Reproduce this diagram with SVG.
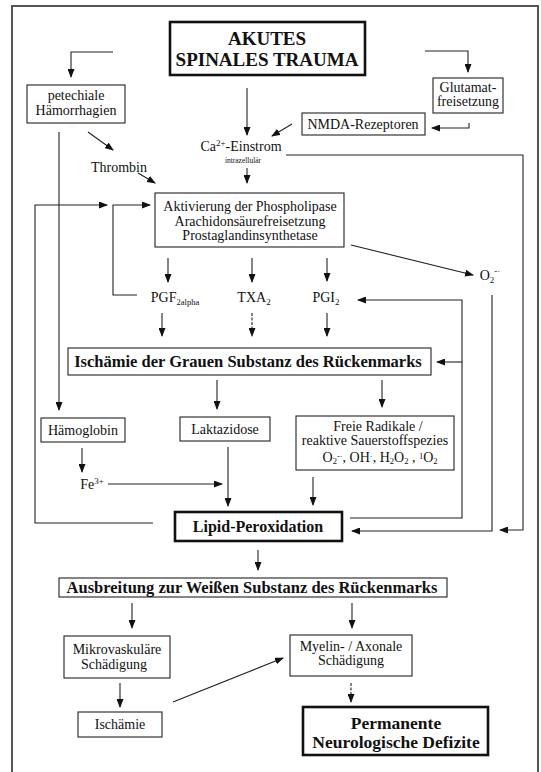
<svg xmlns="http://www.w3.org/2000/svg" width="541" height="772" viewBox="0 0 541 772">
<style>
text{font-family:"Liberation Serif","Times New Roman",serif;fill:#111;text-anchor:middle}
.t{font-size:14px}
.b{font-weight:bold}
.box{fill:#fff;stroke:#222;stroke-width:1.1}
.thick{fill:#fff;stroke:#111;stroke-width:2.6}
.c path{fill:none;stroke:#222;stroke-width:1.1}
.a{marker-end:url(#ah)}
</style>
<defs>
<marker id="ah" markerUnits="userSpaceOnUse" markerWidth="9" markerHeight="7" refX="8" refY="3.5" orient="auto">
<path d="M0,0 L9,3.5 L0,7 z" fill="#111"/>
</marker>
</defs>
<rect x="0" y="0" width="541" height="772" fill="#fff"/>
<path d="M12,780 V6 H538 V780" fill="none" stroke="#555" stroke-width="2"/>

<g class="c">
<path class="a" d="M113,52 H71 V77"/>
<path class="a" d="M425,51 H468 V72"/>
<path class="a" d="M247,88 V135"/>
<path class="a" d="M469,123 V128 H432"/>
<path class="a" d="M292,124 L272,136"/>
<path class="a" d="M247,168 V183"/>
<path class="a" d="M286,155 H523 V530 H500"/>
<path class="a" d="M88,132 L113,150"/>
<path class="a" d="M138,173 L155,183"/>
<path class="a" d="M59,132 V410"/>
<path class="a" d="M153,523 H35 V205 H107"/>
<path class="a" d="M137,295 H113 V205 H150"/>
<path class="a" d="M168,258 V282"/>
<path class="a" d="M252,258 V282"/>
<path class="a" d="M327,258 V281"/>
<path class="a" d="M351,245 L473,275"/>
<path class="a" d="M162,313 V336"/>
<path class="a" d="M252,313 V336" stroke-dasharray="3,1.5"/>
<path class="a" d="M327,313 V336"/>
<path class="a" d="M492,295 V531 H352"/>
<path class="a" d="M350,518 H462 V300 H358"/>
<path class="a" d="M462,362 H437"/>
<path class="a" d="M217,380 V409"/>
<path class="a" d="M382,380 V407"/>
<path class="a" d="M82,448 V472"/>
<path class="a" d="M108,484 H222"/>
<path class="a" d="M228,447 V506"/>
<path class="a" d="M313,477 V505"/>
<path class="a" d="M258,550 V570"/>
<path class="a" d="M132,603 V628"/>
<path class="a" d="M352,603 V628"/>
<path class="a" d="M120,683 V707"/>
<path class="a" d="M173,702 L283,658"/>
<path class="a" d="M351,683 V702" stroke-dasharray="3,1.5"/>
</g>

<g id="trauma">
<rect class="thick" x="170" y="22" width="195" height="53"/>
<text class="b" x="267" y="45" font-size="19">AKUTES</text>
<text class="b" x="267" y="66" font-size="19">SPINALES TRAUMA</text>
</g>
<g id="petechiale">
<rect class="box" x="27" y="85" width="98" height="38"/>
<text class="t" x="76" y="100">petechiale</text>
<text class="t" x="76" y="115">Hämorrhagien</text>
</g>
<g id="glutamat">
<rect class="box" x="433" y="78" width="70" height="35"/>
<text class="t" x="468" y="92">Glutamat-</text>
<text class="t" x="468" y="106">freisetzung</text>
</g>
<g id="nmda">
<rect class="box" x="302" y="113" width="123" height="22"/>
<text class="t" x="363" y="129">NMDA-Rezeptoren</text>
</g>
<g id="ca">
<text class="t" x="241" y="151">Ca<tspan font-size="9" dy="-5">2+</tspan><tspan dy="5">-Einstrom</tspan></text>
<text x="243" y="163" font-size="7.5">intrazellulär</text>
</g>
<g id="thrombin">
<text class="t" x="119" y="172">Thrombin</text>
</g>
<g id="aktivierung">
<rect class="box" x="155" y="193" width="189" height="54"/>
<text class="t" x="250" y="211">Aktivierung der Phospholipase</text>
<text class="t" x="250" y="226">Arachidonsäurefreisetzung</text>
<text class="t" x="250" y="240">Prostaglandinsynthetase</text>
</g>
<g id="pgf">
<text class="t" x="175" y="302">PGF<tspan font-size="8.5" dy="3">2alpha</tspan></text>
</g>
<g id="txa">
<text class="t" x="254" y="302">TXA<tspan font-size="9" dy="3">2</tspan></text>
</g>
<g id="pgi">
<text class="t" x="326" y="302">PGI<tspan font-size="9" dy="3">2</tspan></text>
</g>
<g id="o2">
<text class="t" x="490" y="280">O<tspan font-size="9" dy="3">2</tspan><tspan font-size="9" dy="-9">-·</tspan></text>
</g>
<g id="ischaemie-grau">
<rect class="box" x="68" y="348" width="363" height="27"/>
<text class="b" x="248" y="367" font-size="16.5">Ischämie der Grauen Substanz des Rückenmarks</text>
</g>
<g id="haemoglobin">
<rect class="box" x="41" y="418" width="84" height="24"/>
<text class="t" x="83" y="435">Hämoglobin</text>
</g>
<g id="fe">
<text class="t" x="92" y="489">Fe<tspan font-size="9" dy="-5">3+</tspan></text>
</g>
<g id="laktazidose">
<rect class="box" x="180" y="417" width="90" height="24"/>
<text class="t" x="225" y="434">Laktazidose</text>
</g>
<g id="radikale">
<rect class="box" x="296" y="416" width="158" height="54"/>
<text class="t" x="378" y="431">Freie Radikale /</text>
<text class="t" x="375" y="445">reaktive Sauerstoffspezies</text>
<text class="t" x="380" y="462">O<tspan font-size="8.5" dy="2">2</tspan><tspan font-size="8.5" dy="-5">-·</tspan><tspan dy="3">, OH</tspan><tspan font-size="8.5" dy="-3">·</tspan><tspan dy="3">, H</tspan><tspan font-size="8.5" dy="2">2</tspan><tspan dy="-2">O</tspan><tspan font-size="8.5" dy="2">2</tspan><tspan dy="-2"> , </tspan><tspan font-size="8.5" dy="-3">1</tspan><tspan dy="3">O</tspan><tspan font-size="8.5" dy="2">2</tspan></text>
</g>
<g id="lipid">
<rect class="thick" x="175" y="512" width="167" height="29"/>
<text class="b" x="258" y="532" font-size="16">Lipid-Peroxidation</text>
</g>
<g id="ausbreitung">
<rect class="box" x="59" y="578" width="388" height="19"/>
<text class="b" x="252" y="593" font-size="16.5">Ausbreitung zur Weißen Substanz des Rückenmarks</text>
</g>
<g id="mikro">
<rect class="box" x="64" y="636" width="106" height="42"/>
<text class="t" x="117" y="654">Mikrovaskuläre</text>
<text class="t" x="114" y="669">Schädigung</text>
</g>
<g id="ischaemie">
<rect class="box" x="78" y="712" width="84" height="25"/>
<text class="t" x="120" y="729">Ischämie</text>
</g>
<g id="myelin">
<rect class="box" x="290" y="635" width="122" height="41"/>
<text class="t" x="351" y="651">Myelin- / Axonale</text>
<text class="t" x="351" y="665">Schädigung</text>
</g>
<g id="permanente">
<rect class="thick" x="303" y="707" width="185" height="48"/>
<text class="b" x="396" y="729" font-size="17.5">Permanente</text>
<text class="b" x="396" y="748" font-size="17.5">Neurologische Defizite</text>
</g>
</svg>
